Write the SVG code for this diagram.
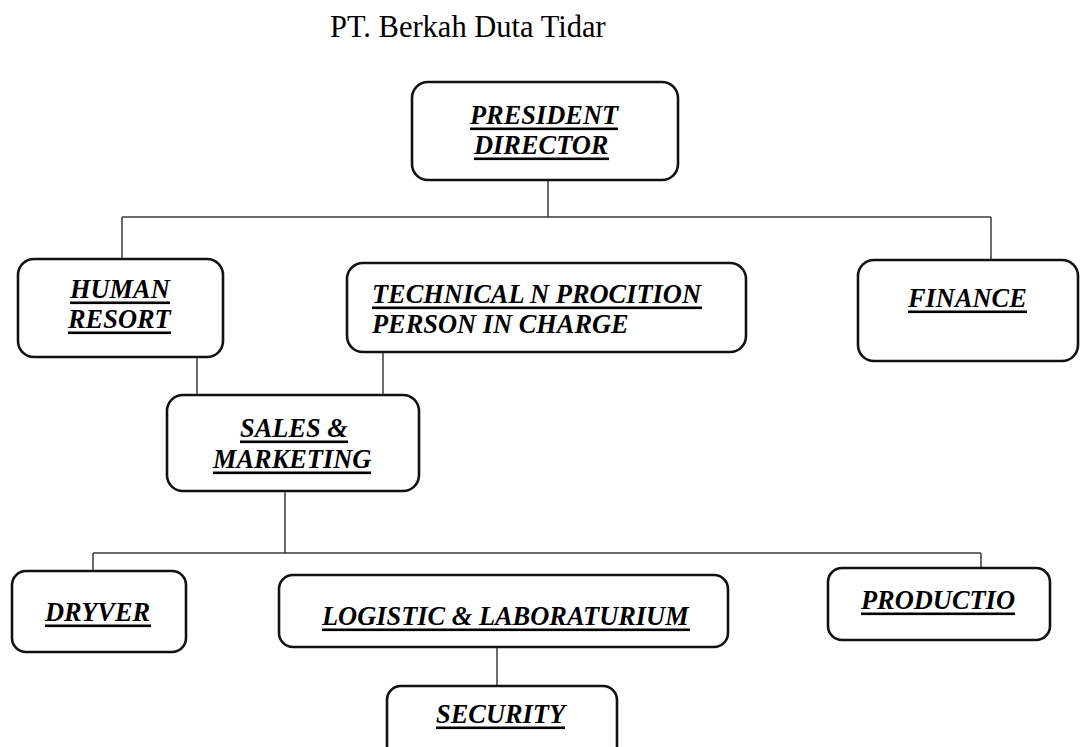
<svg xmlns="http://www.w3.org/2000/svg" width="1080" height="747" viewBox="0 0 1080 747">
  <style>
    .box { fill: #ffffff; stroke: #111111; stroke-width: 2.6; }
    .lbl { font-family: "Liberation Serif", "Times New Roman", serif; font-size: 26.4px; font-weight: bold; font-style: italic; fill: #000000; }
    .ul { fill: #000000; }
    .title { font-family: "Liberation Serif", "Times New Roman", serif; font-size: 30.5px; fill: #000000; }
    .conn line { stroke: #3a3a3a; stroke-width: 1.5; }
  </style>
  <rect width="1080" height="747" fill="#ffffff"/>

  <text class="title" x="330" y="37">PT. Berkah Duta Tidar</text>

  <!-- connectors -->
  <g id="connectors" class="conn">
    <line x1="548" y1="180" x2="548" y2="217"/>
    <line x1="122" y1="217" x2="991" y2="217"/>
    <line x1="122" y1="217" x2="122" y2="259"/>
    <line x1="991" y1="217" x2="991" y2="260"/>
    <line x1="197" y1="357" x2="197" y2="395"/>
    <line x1="383" y1="352" x2="383" y2="395"/>
    <line x1="285" y1="491" x2="285" y2="553"/>
    <line x1="93" y1="553" x2="981" y2="553"/>
    <line x1="93" y1="553" x2="93" y2="571"/>
    <line x1="981" y1="553" x2="981" y2="568"/>
    <line x1="497" y1="647" x2="497" y2="686"/>
  </g>

  <g id="president">
    <rect class="box" x="412" y="82" width="266" height="98" rx="16"/>
    <text class="lbl" x="470" y="124">PRESIDENT</text>
    <rect class="ul" x="470" y="127.5" width="148" height="2.6"/>
    <text class="lbl" x="474" y="154">DIRECTOR</text>
    <rect class="ul" x="474" y="157.5" width="135" height="2.6"/>
  </g>

  <g id="human-resort">
    <rect class="box" x="18" y="259" width="205" height="98" rx="16"/>
    <text class="lbl" x="70" y="298">HUMAN</text>
    <rect class="ul" x="70" y="301.5" width="100" height="2.6"/>
    <text class="lbl" x="68" y="328">RESORT</text>
    <rect class="ul" x="68" y="331.5" width="103" height="2.6"/>
  </g>

  <g id="technical">
    <rect class="box" x="347" y="263" width="399" height="89" rx="16"/>
    <text class="lbl" x="372" y="303">TECHNICAL N PROCITION</text>
    <rect class="ul" x="372" y="306.5" width="330" height="2.6"/>
    <text class="lbl" x="372" y="333">PERSON IN CHARGE</text>
  </g>

  <g id="finance">
    <rect class="box" x="858" y="260" width="220" height="101" rx="16"/>
    <text class="lbl" x="908" y="307">FINANCE</text>
    <rect class="ul" x="908" y="310.5" width="119" height="2.6"/>
  </g>

  <g id="sales-marketing">
    <rect class="box" x="167" y="395" width="252" height="96" rx="16"/>
    <text class="lbl" x="240" y="437">SALES &amp;</text>
    <rect class="ul" x="240" y="440.5" width="108" height="2.6"/>
    <text class="lbl" x="213" y="468">MARKETING</text>
    <rect class="ul" x="213" y="471.5" width="158" height="2.6"/>
  </g>

  <g id="dryver">
    <rect class="box" x="12" y="571" width="174" height="81" rx="14"/>
    <text class="lbl" x="45" y="621">DRYVER</text>
    <rect class="ul" x="45" y="624.5" width="106" height="2.6"/>
  </g>

  <g id="logistic">
    <rect class="box" x="279" y="575" width="449" height="72" rx="14"/>
    <text class="lbl" x="322" y="625">LOGISTIC &amp; LABORATURIUM</text>
    <rect class="ul" x="322" y="628.5" width="368" height="2.6"/>
  </g>

  <g id="productio">
    <rect class="box" x="828" y="568" width="222" height="72" rx="14"/>
    <text class="lbl" x="861" y="609">PRODUCTIO</text>
    <rect class="ul" x="861" y="612.5" width="154" height="2.6"/>
  </g>

  <g id="security">
    <rect class="box" x="387" y="686" width="230" height="80" rx="14"/>
    <text class="lbl" x="436" y="723">SECURITY</text>
    <rect class="ul" x="436" y="726.5" width="129" height="2.6"/>
  </g>
</svg>
